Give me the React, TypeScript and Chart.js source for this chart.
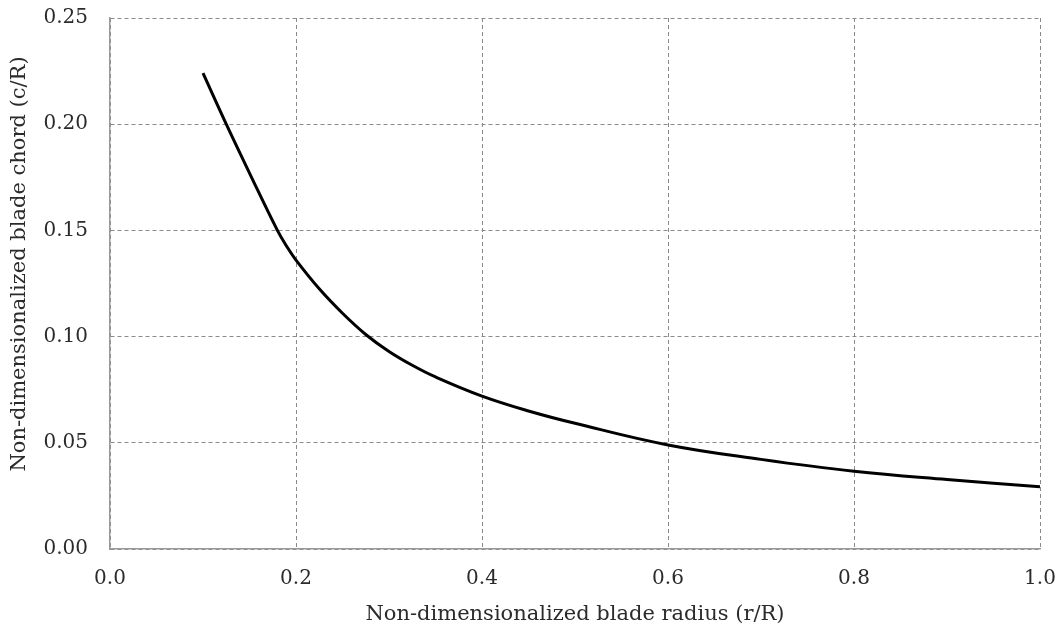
import React, { useEffect, useRef } from "react";
import { Chart, registerables } from "chart.js";

Chart.register(...registerables);

const radius = [0.1, 0.125, 0.15, 0.18, 0.19, 0.2, 0.225, 0.25, 0.275, 0.3, 0.325, 0.35, 0.4, 0.45, 0.5, 0.6, 0.7, 0.8, 0.9, 1.0];
const chord = [0.224, 0.2, 0.177, 0.15, 0.1425, 0.136, 0.1225, 0.111, 0.101, 0.093, 0.0865, 0.081, 0.072, 0.065, 0.0592, 0.049, 0.0422, 0.0366, 0.0327, 0.0293];

const xTitle = "Non-dimensionalized blade radius (r/R)";
const yTitle = "Non-dimensionalized blade chord (c/R)";

const FONT = "'DejaVu Serif', serif";
const TEXT = "#2b2b2b";

const yTitlePlugin = {
  id: "yTitleCustom",
  afterDraw(chart: any) {
    const ctx = chart.ctx as CanvasRenderingContext2D;
    ctx.save();
    ctx.translate(20, 264);
    ctx.rotate(-Math.PI / 2);
    ctx.font = `21px ${FONT}`;
    ctx.fillStyle = TEXT;
    ctx.textAlign = "center";
    ctx.textBaseline = "middle";
    ctx.fillText(yTitle, 0, 0);
    ctx.restore();
  },
};

export default function App() {
  const ref = useRef<HTMLCanvasElement | null>(null);
  useEffect(() => {
    document.body.style.margin = "0";
    const chart = new Chart(ref.current!, {
      type: "scatter",
      data: {
        datasets: [
          {
            data: radius.map((r, i) => ({ x: r, y: chord[i] })),
            showLine: true,
            borderColor: "#000",
            borderWidth: 3,
            pointRadius: 0,
            tension: 0.4,
          },
        ],
      },
      options: {
        animation: false,
        responsive: false,
        maintainAspectRatio: false,
        layout: { padding: { top: 18, right: 21, left: 0, bottom: 0 } },
        plugins: { legend: { display: false }, tooltip: { enabled: false } },
        scales: {
          x: {
            type: "linear",
            min: 0,
            max: 1,
            afterFit: (s: any) => { s.height = 85; s.paddingLeft = 0; s.paddingRight = 0; },
            ticks: {
              stepSize: 0.2,
              color: TEXT,
              font: { family: FONT, size: 20 },
              padding: 18,
              callback: (v: any) => Number(v).toFixed(1),
            },
            grid: { color: "#8a8a8a", lineWidth: 1, drawTicks: false },
            border: { display: true, color: "#999", width: 1.5, dash: [4, 3] },
            title: { display: true, text: xTitle, color: TEXT, font: { family: FONT, size: 21 }, padding: { top: 0, bottom: 7 } },
          },
          y: {
            type: "linear",
            min: 0,
            max: 0.25,
            afterFit: (s: any) => { s.width = 110; s.paddingTop = 0; s.paddingBottom = 0; },
            ticks: {
              stepSize: 0.05,
              color: TEXT,
              font: { family: FONT, size: 20 },
              padding: 22,
              callback: (v: any) => Number(v).toFixed(2),
            },
            grid: { color: "#8a8a8a", lineWidth: 1, drawTicks: false },
            border: { display: true, color: "#999", width: 1.5, dash: [4, 3] },
            title: { display: false },
          },
        },
      },
      plugins: [yTitlePlugin],
    });
    return () => chart.destroy();
  }, []);
  return (
    <div style={{ width: 1061, height: 634 }}>
      <canvas ref={ref} width={1061} height={634} style={{ display: "block" }} />
    </div>
  );
}
